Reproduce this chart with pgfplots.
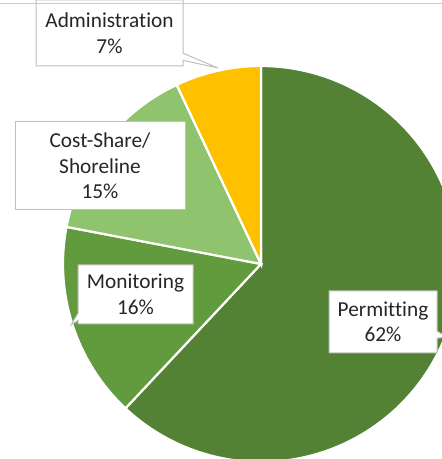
\documentclass[border=0pt]{standalone}
\usepackage{pgfplots}
\pgfplotsset{compat=1.18}
\usepackage{fontspec}
\setmainfont{Carlito}[Ligatures=NoCommon]
\usetikzlibrary{shapes.callouts}
\definecolor{perm}{HTML}{548235}
\definecolor{moni}{HTML}{629B3D}
\definecolor{cost}{HTML}{8FC36D}
\definecolor{admin}{HTML}{FFC000}
\definecolor{boxline}{HTML}{BFBFBF}
\tikzset{lbl/.style={draw=boxline, line width=1pt, fill=white, align=center, inner sep=0pt,
    font=\fontsize{21.3}{25.5}\selectfont, text=black!85}}
% shares (percent): Permitting 62, Monitoring 16, Cost-Share/Shoreline 15, Administration 7
% slices run clockwise from 12 o'clock; angle = 90 - 3.6*cumulative share
\begin{document}
\begin{tikzpicture}
\begin{axis}[
  width=442pt, height=459pt, scale only axis,
  xmin=0, xmax=442, ymin=0, ymax=459,
  hide axis, clip=true,
]
\addplot[fill=perm, draw=white, line width=2.2pt, domain=90:-133.2, samples=120, variable=\t]
  ({261+198*cos(\t)},{195+198*sin(\t)}) -- (axis cs:261,195) -- cycle;
\addplot[fill=moni, draw=white, line width=2.2pt, domain=-133.2:-190.8, samples=40, variable=\t]
  ({261+198*cos(\t)},{195+198*sin(\t)}) -- (axis cs:261,195) -- cycle;
\addplot[fill=cost, draw=white, line width=2.2pt, domain=-190.8:-244.8, samples=40, variable=\t]
  ({261+198*cos(\t)},{195+198*sin(\t)}) -- (axis cs:261,195) -- cycle;
\addplot[fill=admin, draw=white, line width=2.2pt, domain=-244.8:-270, samples=30, variable=\t]
  ({261+198*cos(\t)},{195+198*sin(\t)}) -- (axis cs:261,195) -- cycle;

\node[lbl, rectangle callout, minimum width=147pt, minimum height=66pt,
  callout absolute pointer={(axis cs:218,391)}] at (axis cs:109.5,426) {Administration\\7\%};
\node[lbl, rectangle, minimum width=170pt, minimum height=88pt] at (axis cs:100,293) {Cost-Share/\\Shoreline\\15\%};
\node[lbl, rectangle callout, minimum width=115pt, minimum height=59pt,
  callout absolute pointer={(axis cs:71,134)}] at (axis cs:135.5,164.5) {Monitoring\\16\%};
\node[lbl, rectangle callout, minimum width=108pt, minimum height=62pt,
  callout absolute pointer={(axis cs:447,122)}] at (axis cs:383,137) {Permitting\\62\%};
\draw[boxline!80, line width=1.6pt] (axis cs:0,455.5) -- (axis cs:442,455.5);
\end{axis}
\pgfresetboundingbox
\path[use as bounding box] (current axis.south west) rectangle (current axis.north east);
\end{tikzpicture}
\end{document}
